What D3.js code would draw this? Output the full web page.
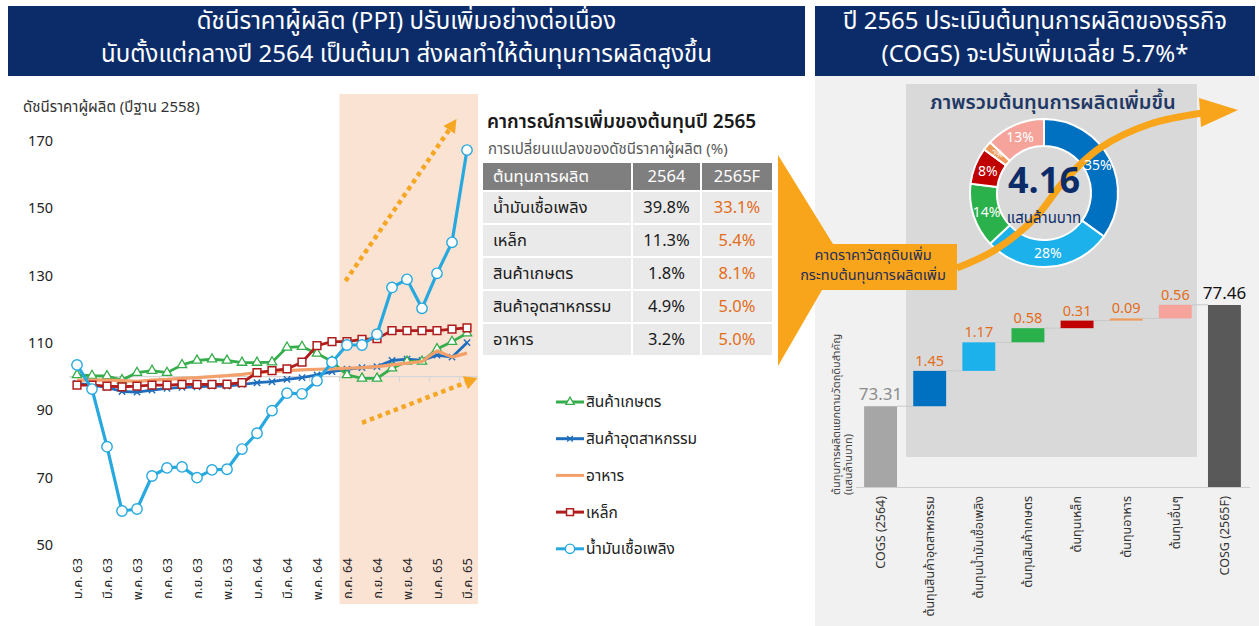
<!DOCTYPE html>
<html><head><meta charset="utf-8">
<script src="https://cdn.jsdelivr.net/npm/d3@7"></script>
<style>
html,body{margin:0;padding:0;background:#fff;}
svg{display:block;font-family:"Noto Sans Thai","Noto Sans","DejaVu Sans",sans-serif;}
</style></head><body>
<svg id="c" width="1259" height="626"></svg>
<script>
// ---------------- DATA ----------------
const leftTitle = ["ดัชนีราคาผู้ผลิต (PPI) ปรับเพิ่มอย่างต่อเนื่อง", "นับตั้งแต่กลางปี 2564 เป็นต้นมา ส่งผลทำให้ต้นทุนการผลิตสูงขึ้น"];
const rightTitle = ["ปี 2565 ประเมินต้นทุนการผลิตของธุรกิจ", "(COGS)  จะปรับเพิ่มเฉลี่ย 5.7%*"];
const months = ["ม.ค. 63","ก.พ. 63","มี.ค. 63","เม.ย. 63","พ.ค. 63","มิ.ย. 63","ก.ค. 63","ส.ค. 63","ก.ย. 63","ต.ค. 63","พ.ย. 63","ธ.ค. 63",
  "ม.ค. 64","ก.พ. 64","มี.ค. 64","เม.ย. 64","พ.ค. 64","มิ.ย. 64","ก.ค. 64","ส.ค. 64","ก.ย. 64","ต.ค. 64","พ.ย. 64","ธ.ค. 64",
  "ม.ค. 65","ก.พ. 65","มี.ค. 65"];
const yTicks = [50,70,90,110,130,150,170];
const yTitle = "ดัชนีราคาผู้ผลิต (ปีฐาน 2558)";
const seriesNames = ["สินค้าเกษตร","สินค้าอุตสาหกรรม","อาหาร","เหล็ก","น้ำมันเชื้อเพลิง"];
const agri = [100.5,100.3,100.2,99.0,101.2,101.8,101.2,103.5,104.8,105.2,104.8,104.2,104.2,104.3,108.7,108.9,106.9,104.5,100.5,99.5,99.5,102.5,104.5,104.5,108.2,110.4,112.9];
const industrial = [98.0,97.5,96.8,95.6,95.4,96.0,96.5,96.8,97.0,97.2,97.2,97.7,98.2,98.5,99.2,99.7,100.5,101.5,102.2,102.7,103.0,104.8,105.2,104.8,106.4,105.8,110.1];
const food = [99.0,99.0,99.0,98.8,98.6,99.0,99.2,99.5,99.7,100.0,100.3,100.7,101.2,101.5,101.8,102.0,102.2,102.3,102.5,102.7,103.0,103.5,104.0,104.5,107.7,105.8,107.0];
const steel = [97.5,97.5,97.2,97.0,97.2,97.5,97.5,97.7,97.7,97.7,97.8,98.2,101.2,101.8,102.3,104.3,109.2,110.4,110.4,111.1,111.3,113.7,113.7,113.7,113.7,114.1,114.5];
const fuel = [103.5,96.3,79.2,60.1,60.7,70.5,72.9,73.2,70.0,72.3,72.5,78.5,83.2,89.9,95.1,94.9,98.8,104.3,109.4,109.4,112.6,126.5,128.9,120.3,130.7,139.9,167.3];
const shadeFrom = "ก.ค. 64";
// trend arrows in data units: [monthIndex, index value]
const trendUp = [[17.9,128.4],[25.3,176.5]];
const trendLow = [[19.0,86.3],[26.7,99.6]];

const tableTitle = "คาการณ์การเพิ่มของต้นทุนปี 2565";
const tableSub = "การเปลี่ยนแปลงของดัชนีราคาผู้ผลิต (%)";
const tableHead = ["ต้นทุนการผลิต","2564","2565F"];
const costItems = ["น้ำมันเชื้อเพลิง","เหล็ก","สินค้าเกษตร","สินค้าอุตสาหกรรม","อาหาร"];
const chg2564 = ["39.8%","11.3%","1.8%","4.9%","3.2%"];
const chg2565F = ["33.1%","5.4%","8.1%","5.0%","5.0%"];

const calloutText = ["คาดราคาวัตถุดิบเพิ่ม","กระทบต้นทุนการผลิตเพิ่ม"];
const donutTitle = "ภาพรวมต้นทุนการผลิตเพิ่มขึ้น";
const donutTotal = "4.16";
const donutUnit = "แสนล้านบาท";
const donutLabels = ["สินค้าอุตสาหกรรม","น้ำมันเชื้อเพลิง","สินค้าเกษตร","เหล็ก","อาหาร","อื่นๆ"];
const donutShares = [35,28,14,8,2,13];

const wfLabels = ["COGS (2564)","ต้นทุนสินค้าอุตสาหกรรม","ต้นทุนน้ำมันเชื้อเพลิง","ต้นทุนสินค้าเกษตร","ต้นทุนเหล็ก","ต้นทุนอาหาร","ต้นทุนอื่นๆ","COSG (2565F)"];
const wfValues = [73.31,1.45,1.17,0.58,0.31,0.09,0.56,77.46];
const wfTitle = ["ต้นทุนการผลิตแยกตามวัตถุดิบสำคัญ","(แสนล้านบาท)"];

// ---------------- STYLE ----------------
const NAVY = "#0B2C69";
const ORANGE = "#F9A51B";
const lineColors = ["#35AD4B","#1E6EBD","#F4A06A","#B01C1C","#27A8DF"];
const donutColors = ["#0070C0","#1DB1EC","#2AB14B","#C00000","#EE9A5C","#F6A39C"];
const wfColors = ["#A6A6A6","#0070C0","#1DB1EC","#2AB14B","#C00000","#EE9A5C","#F6A39C","#595959"];

const svg = d3.select("#c");

// ---------------- TITLES ----------------
function titleBox(x0, w, lines, fs){
  svg.append("rect").attr("x",x0).attr("y",6).attr("width",w).attr("height",70).attr("fill",NAVY);
  lines.forEach((t,i)=>{
    svg.append("text").attr("x",x0+w/2).attr("y",29+i*33).attr("text-anchor","middle")
      .attr("fill","#fff").attr("font-size",fs).text(t);
  });
}
titleBox(8, 797, leftTitle, 24);

// ---------------- LEFT LINE CHART ----------------
const x = d3.scalePoint().domain(months).range([77,467]);
const xi = d3.scaleLinear().domain([0, months.length-1]).range([77,467]);
const step = x.step();
const y = d3.scaleLinear().domain([50,170]).range([545,141]);

svg.append("rect").attr("x", x(shadeFrom)-step/2).attr("y",94)
  .attr("width", 478-(x(shadeFrom)-step/2)).attr("height",510).attr("fill","#FBE3D4");

svg.append("text").attr("x",23).attr("y",112).attr("font-size",15).attr("fill","#333").text(yTitle);
svg.selectAll(".ytl").data(yTicks).join("text").attr("class","ytl")
  .attr("x",53).attr("y",d=>y(d)).attr("dy","0.35em").attr("text-anchor","end")
  .attr("font-size",14.5).attr("fill","#222").text(d=>d);

// axis line at 100
svg.append("line").attr("x1",x(months[0])-8).attr("x2",478).attr("y1",y(100)).attr("y2",y(100))
  .attr("stroke","#D6D6D6").attr("stroke-width",1.2);
svg.selectAll(".xtk").data(d3.range(1, months.length-1, 2)).join("line").attr("class","xtk")
  .attr("x1",d=>xi(d+0.5)).attr("x2",d=>xi(d+0.5)).attr("y1",y(100)).attr("y2",y(100)+5)
  .attr("stroke","#D6D6D6").attr("stroke-width",1.2);

svg.selectAll(".xl").data(months.filter((d,i)=>i%2===0)).join("text").attr("class","xl")
  .attr("transform",d=>`translate(${x(d)},558) rotate(-90)`).attr("dy","0.35em")
  .attr("text-anchor","end").attr("font-size",13).attr("fill","#222").text(d=>d);

const line = d3.line().x((d,i)=>x(months[i])).y(d=>y(d));
const series = [agri, industrial, food, steel, fuel];
const drawOrder = [1,0,2,3,4];
const markers = ["tri","x",null,"sq","circ"];
function drawMarker(g, type, cx, cy, color, scale){
  scale = scale||1;
  if(type==="tri"){
    g.append("path").attr("d",d3.symbol(d3.symbolTriangle, 38*scale)())
      .attr("transform",`translate(${cx},${cy})`).attr("fill","#fff").attr("stroke",color).attr("stroke-width",1.3);
  } else if(type==="x"){
    g.append("path").attr("d",d3.symbol(d3.symbolX, 28*scale)())
      .attr("transform",`translate(${cx},${cy})`).attr("fill","none").attr("stroke",color).attr("stroke-width",1.4);
  } else if(type==="sq"){
    g.append("path").attr("d",d3.symbol(d3.symbolSquare, 60*scale)())
      .attr("transform",`translate(${cx},${cy})`).attr("fill","#fff").attr("stroke",color).attr("stroke-width",1.5);
  } else if(type==="circ"){
    g.append("circle").attr("cx",cx).attr("cy",cy).attr("r",5.2*Math.sqrt(scale))
      .attr("fill","#fff").attr("stroke",color).attr("stroke-width",1.4);
  }
}
drawOrder.forEach(k=>{
  const g = svg.append("g");
  g.append("path").attr("d",line(series[k])).attr("fill","none").attr("stroke",lineColors[k])
    .attr("stroke-width",k===4?3.2:(k===2?3.2:2.8)).attr("stroke-linejoin","round");
  if(markers[k]) series[k].forEach((v,i)=>drawMarker(g, markers[k], x(months[i]), y(v), lineColors[k]));
});

// dotted trend arrows
function trendArrow(pts){
  const p0=[xi(pts[0][0]),y(pts[0][1])], p1=[xi(pts[1][0]),y(pts[1][1])];
  const ang = Math.atan2(p1[1]-p0[1], p1[0]-p0[0]);
  const L=13, Wd=7;
  const base=[p1[0]-L*Math.cos(ang), p1[1]-L*Math.sin(ang)];
  svg.append("line").attr("x1",p0[0]).attr("y1",p0[1]).attr("x2",base[0]).attr("y2",base[1])
    .attr("stroke","#F5A623").attr("stroke-width",4.5).attr("stroke-dasharray","4.5,4");
  const nx=-Math.sin(ang), ny=Math.cos(ang);
  svg.append("path").attr("d",`M${p1[0]},${p1[1]} L${base[0]+nx*Wd},${base[1]+ny*Wd} L${base[0]-nx*Wd},${base[1]-ny*Wd} Z`)
    .attr("fill","#F5A623");
}
trendArrow(trendUp); trendArrow(trendLow);

// legend
const legOrder = [0,1,2,3,4];
legOrder.forEach((k,j)=>{
  const ly = 402 + j*36.7;
  const g = svg.append("g");
  g.append("line").attr("x1",556).attr("x2",584).attr("y1",ly).attr("y2",ly).attr("stroke",lineColors[k]).attr("stroke-width",3);
  if(markers[k]) drawMarker(g, markers[k], 570, ly, lineColors[k], 0.8);
  g.append("text").attr("x",586).attr("y",ly).attr("dy","0.35em").attr("font-size",15.5).attr("fill","#222").text(seriesNames[k]);
});

// ---------------- TABLE ----------------
svg.append("text").attr("x",487).attr("y",128).attr("font-size",19).attr("font-weight",600).attr("fill","#1a1a1a").text(tableTitle);
svg.append("text").attr("x",488).attr("y",154).attr("font-size",15).attr("fill","#595959").text(tableSub);
const colX = [483,633,702], colW=[148,67,70];
const headY=163, headH=27, rowY0=192, rowH=33;
tableHead.forEach((h,c)=>{
  svg.append("rect").attr("x",colX[c]).attr("y",headY).attr("width",colW[c]).attr("height",headH).attr("fill","#7F7F7F");
  svg.append("text").attr("x",c===0?colX[c]+10:colX[c]+colW[c]/2).attr("y",headY+headH/2).attr("dy","0.35em")
    .attr("text-anchor",c===0?"start":"middle").attr("font-size",16.5).attr("fill","#fff").text(h);
});
costItems.forEach((it,r)=>{
  const ry = rowY0 + r*rowH;
  const vals=[it, chg2564[r], chg2565F[r]];
  vals.forEach((v,c)=>{
    svg.append("rect").attr("x",colX[c]).attr("y",ry).attr("width",colW[c]).attr("height",rowH-2).attr("fill","#EAEAEA");
    svg.append("text").attr("x",c===0?colX[c]+10:colX[c]+colW[c]/2).attr("y",ry+(rowH-2)/2).attr("dy","0.35em")
      .attr("text-anchor",c===0?"start":"middle").attr("font-size",16.5).attr("fill",c===2?"#E36C1A":"#1a1a1a").text(v);
  });
});

// ---------------- RIGHT PANEL ----------------
svg.append("rect").attr("x",815).attr("y",76).attr("width",444).attr("height",550).attr("fill","#F1F1F1");
titleBox(815, 440, rightTitle, 24);
svg.append("rect").attr("x",906).attr("y",84).attr("width",291).attr("height",373).attr("fill","#D9D9D9");

// callout
svg.append("path").attr("d","M778,155 L833,244 L957,244 L957,290 L822,290 L778,366 Z").attr("fill",ORANGE);
calloutText.forEach((t,i)=>svg.append("text").attr("x",873).attr("y",260+i*20).attr("text-anchor","middle")
  .attr("font-size",14.5).attr("fill","#1F2D5A").text(t));

// donut
svg.append("text").attr("x",1053).attr("y",109).attr("text-anchor","middle").attr("font-size",20)
  .attr("font-weight",600).attr("fill","#1F3864").text(donutTitle);
const dc=[1044,193];
const pie = d3.pie().sort(null).value(d=>d);
const arc = d3.arc().innerRadius(47).outerRadius(74);
const arcs = pie(donutShares);
const dg = svg.append("g").attr("transform",`translate(${dc[0]},${dc[1]})`);
dg.selectAll("path").data(arcs).join("path").attr("d",arc).attr("fill",(d,i)=>donutColors[i])
  .attr("stroke","#fff").attr("stroke-width",2);

// swoosh
const swoosh = [[957,268],[995,250],[1035,218],[1065,180],[1100,148],[1150,124],[1203,113]];
svg.append("path").attr("d",d3.line().curve(d3.curveCatmullRom)(swoosh)).attr("fill","none")
  .attr("stroke",ORANGE).attr("stroke-width",7);
svg.append("path").attr("d","M1199,98 L1238,110 L1201,127 Z").attr("fill",ORANGE);

const dl = svg.append("g").attr("transform",`translate(${dc[0]},${dc[1]})`);
dl.selectAll(".pl").data(arcs).join("text").attr("class","pl")
  .attr("transform",d=>`translate(${arc.centroid(d)})`).attr("dy","0.35em").attr("text-anchor","middle")
  .attr("font-size",(d,i)=>donutShares[i]<5?8:14).attr("fill","#fff").text((d,i)=>donutShares[i]+"%");
dl.append("text").attr("y",0).attr("text-anchor","middle").attr("font-size",36).attr("font-weight",700)
  .attr("fill","#0B2C69").text(donutTotal);
dl.append("text").attr("y",30).attr("text-anchor","middle").attr("font-size",15).attr("fill","#0B2C69").text(donutUnit);

// waterfall
const xb = d3.scaleBand().domain(wfLabels).range([856,1249]).paddingInner(0.33).paddingOuter(0.165);
const yw = d3.scaleLinear().domain([70,77.46]).range([487,305]);
let cum = 0;
const wf = wfValues.map((v,i)=>{
  let s,e;
  if(i===0){s=yw.domain()[0]; e=v; cum=v;}
  else if(i===wfValues.length-1){s=yw.domain()[0]; e=v;}
  else {s=cum; e=cum+v; cum=e;}
  return {label:wfLabels[i], v, s, e, total:(i===0||i===wfValues.length-1)};
});
svg.append("line").attr("x1",856).attr("x2",1250).attr("y1",487.5).attr("y2",487.5).attr("stroke","#CFCFCF");
wf.forEach((d,i)=>{
  if(i<wf.length-1){
    svg.append("line").attr("x1",xb(d.label)+xb.bandwidth()).attr("x2",xb(wf[i+1].label))
      .attr("y1",yw(d.e)).attr("y2",yw(d.e)).attr("stroke","#C8C8C8").attr("stroke-width",1);
  }
});
svg.selectAll(".wb").data(wf).join("rect").attr("class","wb")
  .attr("x",d=>xb(d.label)).attr("width",xb.bandwidth())
  .attr("y",d=>yw(d.e)).attr("height",d=>Math.max(1.5, yw(d.s)-yw(d.e)))
  .attr("fill",(d,i)=>wfColors[i]);
svg.selectAll(".wv").data(wf).join("text").attr("class","wv")
  .attr("x",d=>xb(d.label)+xb.bandwidth()/2).attr("y",d=>yw(d.e)-(d.total?6:5))
  .attr("text-anchor","middle").attr("font-size",d=>d.total?17:14.5)
  .attr("fill",(d,i)=>i===0?"#8C8C8C":(d.total?"#111":"#E36C1A")).text(d=>d.v.toFixed(2));
svg.selectAll(".wl").data(wfLabels).join("text").attr("class","wl")
  .attr("transform",d=>`translate(${xb(d)+xb.bandwidth()/2},496) rotate(-90)`).attr("dy","0.35em")
  .attr("text-anchor","end").attr("font-size",12.5).attr("fill","#333").text(d=>d);
wfTitle.forEach((t,i)=>svg.append("text").attr("transform",`translate(${836+i*12},495) rotate(-90)`)
  .attr("dy","0.35em").attr("font-size",11).attr("fill","#444").text(t));
</script>
</body></html>
